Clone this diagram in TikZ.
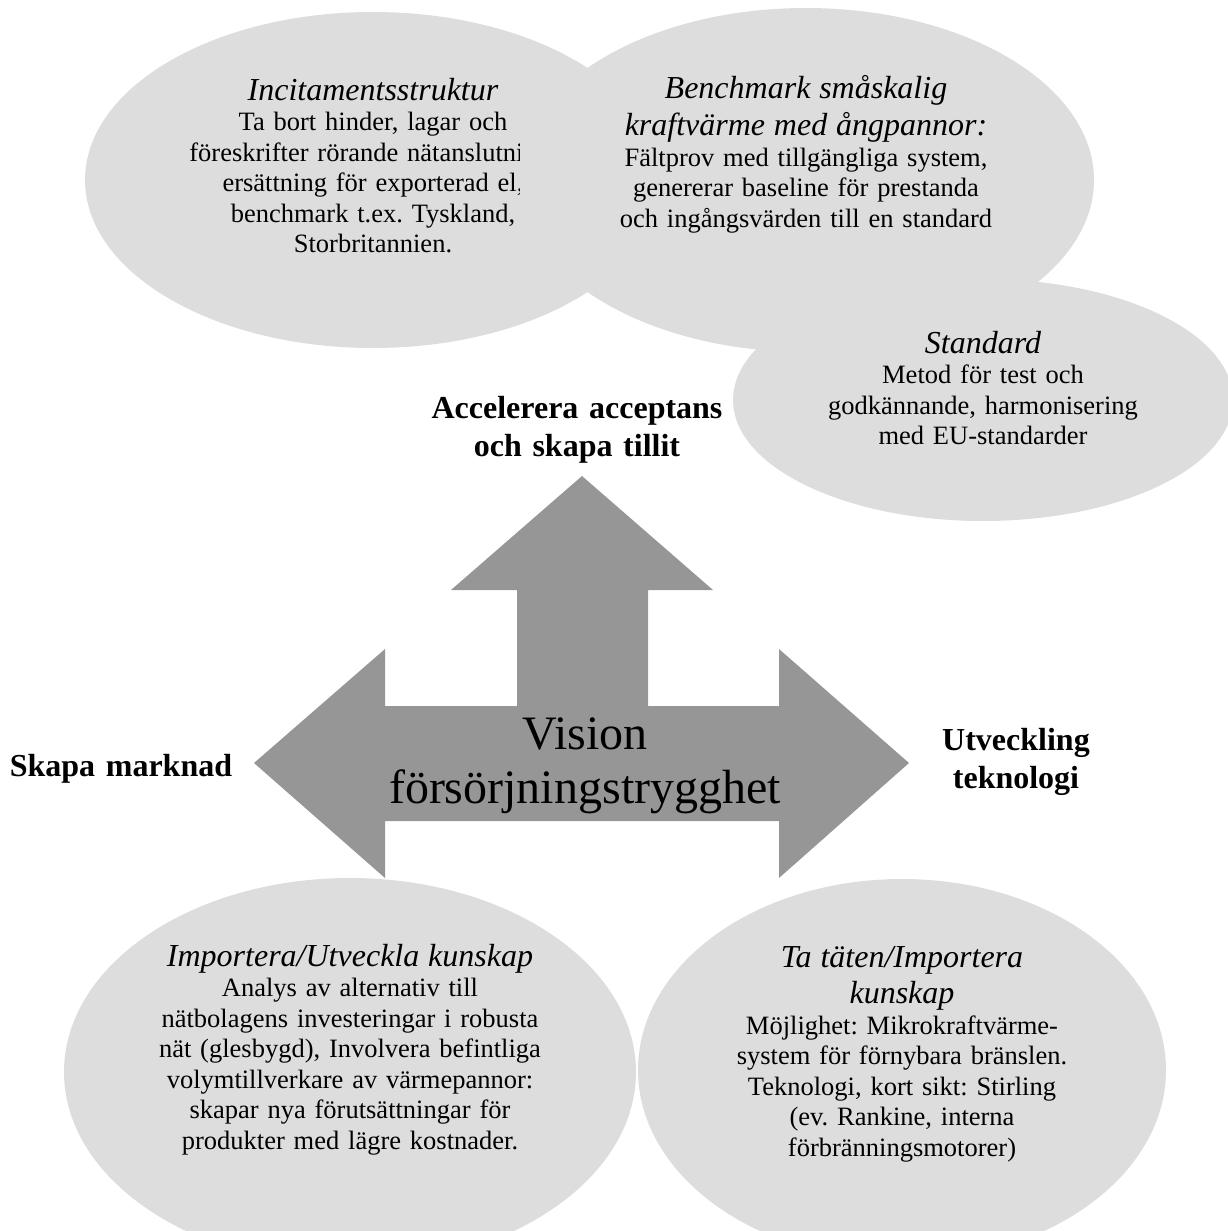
\documentclass[tikz,border=0pt]{standalone}
\usepackage{fontspec}
\setmainfont{Liberation Serif}
\frenchspacing
\definecolor{ellgray}{RGB}{221,221,221}
\definecolor{arrgray}{RGB}{150,150,150}
\newcommand\bodyfs{\fontsize{26.5}{30.5}\selectfont}
\newcommand\titlefs{\fontsize{32}{36.8}\selectfont\itshape}
\newcommand\labfs{\fontsize{32}{38.5}\selectfont\bfseries}
\newcommand\visfs{\fontsize{48}{54}\selectfont}
\tikzset{
  bubble/.style={fill=ellgray},
  bigarrow/.style={fill=arrgray},
  txt/.style={anchor=base, inner sep=0pt, text width=620pt, align=center, font=\bodyfs},
  lab/.style={txt, font=\labfs},
  vis/.style={txt, font=\visfs},
}
\begin{document}
\begin{tikzpicture}[x=1pt,y=-1pt]
\useasboundingbox (0,0) rectangle (1227,1231);
% bubbles
\fill[bubble] (373,180) ellipse [x radius=288pt, y radius=168pt];
\fill[bubble] (806,180) ellipse [x radius=288pt, y radius=172pt];
\fill[bubble] (983,400) ellipse [x radius=250pt, y radius=121pt];
\fill[bubble] (350,1072) ellipse [x radius=286pt, y radius=194pt];
\fill[bubble] (902,1070) ellipse [x radius=264pt, y radius=191pt];
% three-way arrow
\fill[bigarrow] (582,476) -- (713,590) -- (648,590) -- (648,706) -- (779,706)
  -- (779,649) -- (909,763) -- (779,878) -- (779,821) -- (385,821) -- (385,878)
  -- (254,763) -- (385,649) -- (385,706) -- (517,706) -- (517,590) -- (451,590) -- cycle;
% texts
\begin{scope}
  \clip (0,0) rectangle (519,1231);
  \node[txt] (inc) at (373,100) {{\titlefs Incitamentsstruktur\par}%
    Ta bort hinder, lagar och\\
    föreskrifter rörande nätanslutni\phantom{ng,}\\
    ersättning för exporterad el,\\
    benchmark t.ex. Tyskland,\\
    Storbritannien.};
\end{scope}
\node[txt] (bench) at (806,99) {{\titlefs Benchmark småskalig\\kraftvärme med ångpannor:\par}%
  Fältprov med tillgängliga system,\\
  genererar baseline för prestanda\\
  och ingångsvärden till en standard};
\node[txt] (std) at (983,353) {{\titlefs Standard\par}%
  Metod för test och\\
  godkännande, harmonisering\\
  med EU-standarder};
\node[lab] (acc) at (577,418) {Accelerera acceptans\\och skapa tillit};
\node[lab] (mark) at (121,776) {Skapa marknad};
\node[lab] (tek) at (1016,750) {Utveckling\\teknologi};
\node[vis] (vision) at (585,749) {Vision\\försörjningstrygghet};
\node[txt] (imp) at (350,966) {{\titlefs Importera/Utveckla kunskap\par}%
  Analys av alternativ till\\
  nätbolagens investeringar i robusta\\
  nät (glesbygd), Involvera befintliga\\
  volymtillverkare av värmepannor:\\
  skapar nya förutsättningar för\\
  produkter med lägre kostnader.};
\node[txt] (tat) at (902,967) {{\titlefs Ta täten/Importera\\kunskap\par}%
  Möjlighet: Mikrokraftvärme-\\
  system för förnybara bränslen.\\
  Teknologi, kort sikt: Stirling\\
  (ev. Rankine, interna\\
  förbränningsmotorer)};
\end{tikzpicture}
\end{document}
